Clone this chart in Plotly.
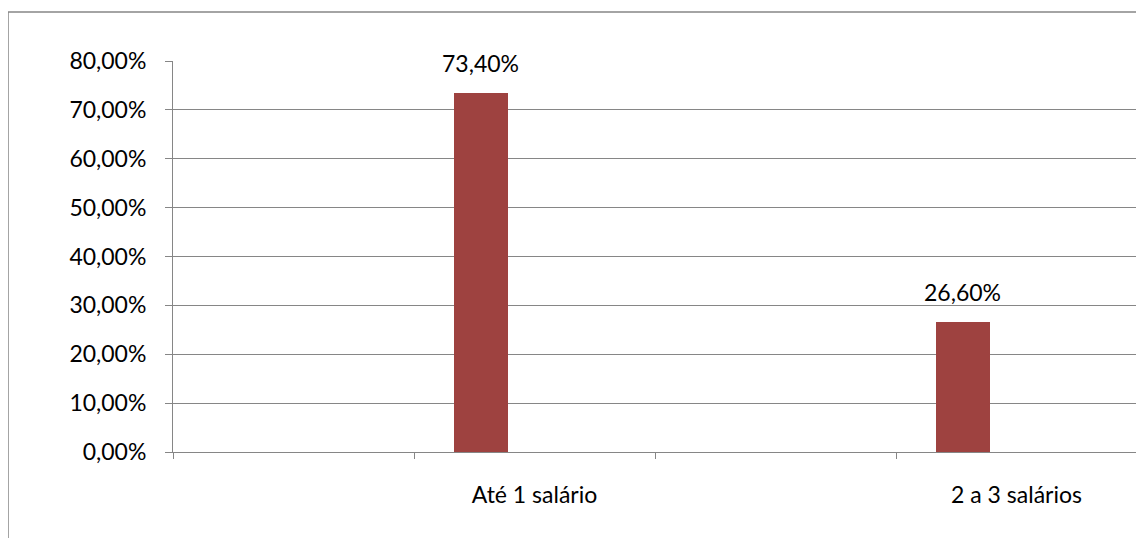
import plotly.graph_objects as go

categories = [" ", "Até 1 salário", "  ", "2 a 3 salários"]
values = [None, 0.734, None, 0.266]
y_ticks = [0, 0.1, 0.2, 0.3, 0.4, 0.5, 0.6, 0.7, 0.8]

# page body has an 8px margin, so the figure is sized to fill the rest
W, H = 1136, 530
L, R, T, B = 165, 7, 53, 86
FONT = dict(family="Lato, 'Open Sans', sans-serif", size=23, color="#000000")
GRID = "#868686"

BAR_W, BAR_OFF = 0.222, -0.333

pw = W - L - R
ph = H - T - B
cat_px = pw / len(categories)
fx = lambda px: (px - L) / pw
fy = lambda py: 1 - (py - T) / ph

fig = go.Figure()
fig.add_trace(go.Bar(
    x=categories, y=values,
    width=BAR_W, offset=BAR_OFF,
    marker=dict(color="#9E4240", line=dict(width=0)),
    hoverinfo="x+y",
))

annotations = []
for c, v in zip(categories, values):
    if v is None:
        continue
    annotations.append(dict(
        x=c, y=v, xref="x", yref="y",
        xshift=(BAR_OFF + BAR_W / 2) * cat_px,
        text=f"{v * 100:.2f}%".replace(".", ","),
        showarrow=False, yanchor="bottom", yshift=14,
        font=FONT,
    ))

fig.update_layout(
    width=W, height=H,
    margin=dict(l=L, r=R, t=T, b=B),
    paper_bgcolor="white", plot_bgcolor="white",
    separators=",.",
    font=FONT,
    showlegend=False,
    bargap=0,
    xaxis=dict(
        type="category", categoryorder="array", categoryarray=categories,
        range=[-0.5, 3.5], tickson="boundaries", ticks="outside", ticklen=6,
        tickcolor=GRID, showline=True, linecolor=GRID, linewidth=1,
        showgrid=False, ticklabelstandoff=22, tickfont=FONT,
    ),
    yaxis=dict(
        range=[0, 0.8], tickvals=y_ticks, tickformat=".2%",
        ticks="outside", ticklen=7, tickcolor=GRID,
        showline=True, linecolor=GRID, linewidth=1,
        showgrid=True, gridcolor=GRID, gridwidth=1,
        zeroline=False, ticklabelstandoff=14, tickfont=FONT,
    ),
    annotations=annotations,
    shapes=[dict(
        type="path", xref="paper", yref="paper",
        path=f"M {fx(0)},{fy(560)} L {fx(0)},{fy(4)} L {fx(1160)},{fy(4)}",
        line=dict(color=GRID, width=1.5),
    )],
)

fig.write_html("out.html")
